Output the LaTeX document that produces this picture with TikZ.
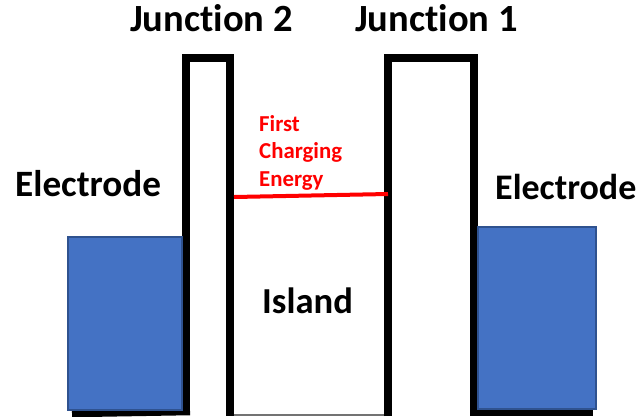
\documentclass[tikz,border=0pt]{standalone}
\usepackage{fontspec}
\setmainfont[Ligatures={NoCommon},RawFeature={-liga,-clig,-dlig}]{Carlito}
\definecolor{elecfill}{RGB}{68,114,196}
\definecolor{elecdraw}{RGB}{47,82,143}
\definecolor{redline}{RGB}{255,0,0}
\begin{document}
\begin{tikzpicture}[x=1pt,y=-1pt,
  wall/.style={line width=8.5pt,black,line join=miter},
  electrodebox/.style={fill=elecfill,draw=elecdraw,line width=1.6pt},
  biglabel/.style={inner sep=0pt,anchor=base west,font=\bfseries\fontsize{38.5}{46}\selectfont},
  midlabel/.style={inner sep=0pt,anchor=base west,font=\bfseries\fontsize{37.2}{44}\selectfont},
  redlabel/.style={inner sep=0pt,anchor=base west,text=redline,font=\bfseries\fontsize{22.8}{27}\selectfont}]
\useasboundingbox (0,0) rectangle (644,416);
% black barrier outline
\draw[wall] (72,413) -- (190,411);
\draw[wall] (186,413) -- (186,58) -- (230,58) -- (230,416);
\draw[black!55,line width=1.5pt] (234,415) -- (384,415);
\draw[wall] (388,416) -- (388,58) -- (474,58) -- (474,412);
\draw[wall] (470,412) -- (593,412);
% electrodes
\path[electrodebox] (68,237) rectangle (182,410);
\path[electrodebox] (478,227) rectangle (596,409);
% first charging energy level
\draw[redline,line width=4pt] (234,197) -- (388,194);
% labels
\node[biglabel] (j2) at (130,31) {Junct\kern0pt ion 2};
\node[biglabel] (j1) at (355,31) {Junct\kern0pt ion 1};
\node[midlabel] (el) at (15,196) {Electrode};
\node[midlabel,font=\bfseries\fontsize{36}{43}\selectfont] (er) at (495,199) {Electrode};
\node[midlabel,font=\bfseries\fontsize{36.6}{43}\selectfont] (isl) at (262,313) {Island};
\node[redlabel] (r1) at (259,131) {First};
\node[redlabel] (r2) at (259,158) {Charging};
\node[redlabel] (r3) at (259,186) {Energy};
\end{tikzpicture}
\end{document}
